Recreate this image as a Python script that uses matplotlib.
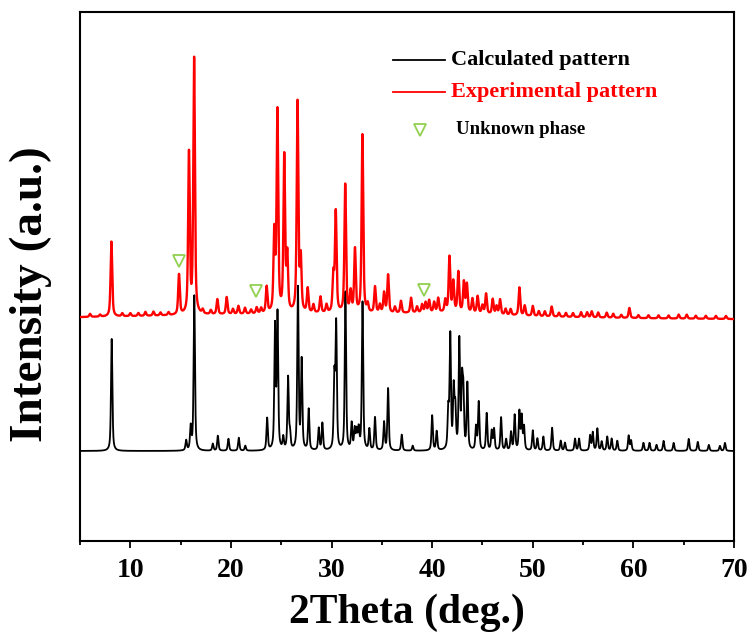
import numpy as np
import matplotlib
matplotlib.use("Agg")
import matplotlib.pyplot as plt
from matplotlib.ticker import FixedLocator

# ---------------- data ----------------
# Calculated pattern: peak positions (2theta, deg) and relative intensities
calc_pos = [8.15, 15.55, 16.0, 16.36, 18.2, 18.7, 19.75, 20.78, 21.43, 23.6,
            24.38, 24.63, 25.2, 25.68, 25.87, 26.66, 27.03, 27.73, 28.73, 29.09,
            30.28, 30.46, 31.38, 32.0, 32.3, 32.5, 32.7, 33.08, 33.76, 34.32,
            35.22, 35.62, 36.98, 38.07, 40.0, 40.45, 41.6, 41.8, 42.14, 42.3,
            42.7, 42.97, 43.1, 43.5, 44.36, 44.63, 45.42, 45.92, 46.15, 46.85,
            47.35, 47.84, 48.2, 48.67, 48.9, 49.13, 50.0, 50.46, 51.05, 51.92,
            52.78, 53.2, 54.2, 54.6, 55.7, 55.96, 56.42, 56.85, 57.4, 57.84,
            58.4, 59.53, 59.77, 61.0, 61.6, 62.3, 63.0, 64.0, 65.5, 66.4,
            67.5, 68.6, 69.1]
calc_int = [112, 10, 23, 155, 7, 15, 12, 13, 5, 32,
            122, 134, 12, 72, 15, 162, 89, 41, 22, 27,
            70, 124, 158, 26, 20, 18, 20, 148, 21, 33,
            28, 62, 16, 5, 35, 19, 38, 113, 59, 39,
            108, 63, 53, 66, 23, 48, 37, 19, 21, 33,
            11, 18, 35, 38, 33, 23, 20, 12, 14, 23,
            10, 8, 12, 12, 15, 18, 22, 9, 14, 12,
            10, 15, 10, 8, 8, 6, 10, 8, 12, 9,
            6, 5, 8]

# Experimental pattern: peak positions and intensities
exp_pos = [6.0, 7.0, 8.12, 9.2, 10.0, 10.8, 11.5, 12.3, 13.0, 13.8,
           14.84, 15.83, 16.34, 17.2, 18.0, 18.65, 19.58, 20.2, 20.74, 21.4,
           22.0, 22.56, 23.0, 23.55, 24.31, 24.62, 25.3, 25.6, 26.62, 26.94,
           27.63, 28.2, 28.9, 29.5, 30.18, 30.42, 31.36, 31.9, 32.33, 33.07,
           33.6, 34.32, 34.8, 35.22, 35.62, 36.3, 36.9, 37.9, 38.5, 39.0,
           39.35, 39.7, 40.2, 40.6, 41.3, 41.72, 42.1, 42.6, 43.15, 43.45,
           44.0, 44.52, 45.0, 45.36, 46.02, 46.4, 46.75, 47.3, 47.8, 48.67,
           49.2, 50.0, 50.6, 51.2, 51.88, 52.6, 53.3, 54.0, 54.8, 55.4,
           55.86, 56.5, 57.35, 58.0, 58.8, 59.6, 60.5, 61.5, 62.5, 63.5,
           64.5, 65.3, 66.2, 67.2, 68.2, 69.2]
exp_int = [3, 2, 75, 3, 3, 3, 4, 4, 3, 3,
           40, 160, 255, 4, 4, 15, 17, 5, 8, 6,
           4, 6, 5, 26, 78, 200, 155, 55, 210, 52,
           24, 8, 16, 8, 36, 100, 128, 20, 63, 178,
           8, 26, 8, 20, 38, 6, 12, 15, 6, 8,
           10, 12, 10, 14, 12, 55, 30, 40, 30, 28,
           14, 17, 8, 20, 15, 8, 15, 6, 6, 28,
           10, 10, 5, 5, 10, 4, 4, 4, 5, 5,
           6, 5, 5, 4, 3, 10, 3, 3, 3, 3,
           4, 4, 3, 3, 3, 3]

# Broad amorphous background of the experimental pattern
bg_pos = [28.0, 42.0]
bg_int = [7, 3]
bg_fwhm = [50.0, 10.0]

# Unknown-phase markers (2theta, height above experimental baseline)
unknown_pos = [14.8, 22.5, 39.2]
unknown_h = [54, 23, 23]

x_ticks = [10, 20, 30, 40, 50, 60, 70]

# ---------------- styling / layout constants ----------------
CALC_OFFSET = 90
EXP_OFFSET = 220
CALC_FWHM = 0.16
EXP_FWHM = 0.19
FONT = ["Liberation Serif", "DejaVu Serif"]
GREEN = "#92D050"


def profile(x, pos, inten, fwhm, eta=0.6):
    y = np.zeros_like(x)
    fw = np.broadcast_to(np.asarray(fwhm, dtype=float), (len(pos),))
    for p, h, w in zip(pos, inten, fw):
        hw = w / 2.0
        lor = 1.0 / (1.0 + ((x - p) / hw) ** 2)
        gau = np.exp(-np.log(2) * ((x - p) / hw) ** 2)
        y += h * (eta * lor + (1 - eta) * gau)
    return y


x = np.arange(5.0, 70.0001, 0.01)
y_calc = CALC_OFFSET + profile(x, calc_pos, calc_int, CALC_FWHM)
y_bg = profile(x, bg_pos, bg_int, bg_fwhm, eta=1.0)
y_exp = EXP_OFFSET + y_bg + profile(x, exp_pos, exp_int, EXP_FWHM)

fig = plt.figure(figsize=(7.53, 6.42), dpi=100)
ax = fig.add_axes([80 / 753, 101 / 642, 654 / 753, 529 / 642])

ax.plot(x, y_calc, color="black", lw=1.3, zorder=2)
ax.plot(x, y_exp, color="#FF0000", lw=1.7, zorder=3)

# unknown phase markers
ux = np.array(unknown_pos)
uy = EXP_OFFSET + np.interp(ux, x, y_bg) + np.array(unknown_h)
ax.plot(ux, uy, linestyle="none", marker="v", markersize=8,
        markerfacecolor="none", markeredgecolor=GREEN, markeredgewidth=1.3,
        zorder=4)

ax.set_xlim(5, 70)
ax.set_ylim(0, 529)
ax.set_yticks([])
ax.xaxis.set_major_locator(FixedLocator(x_ticks))
ax.xaxis.set_minor_locator(FixedLocator([5, 15, 25, 35, 45, 55, 65]))
ax.tick_params(axis="x", which="major", direction="out", length=5, width=1.3,
               pad=7)
ax.tick_params(axis="x", which="minor", direction="out", length=3, width=1.3)
for lbl in ax.get_xticklabels():
    lbl.set_fontfamily(FONT)
    lbl.set_fontweight("bold")
    lbl.set_fontsize(20)
for s in ax.spines.values():
    s.set_linewidth(1.5)

ax.set_xlabel("2Theta (deg.)", family=FONT, fontweight="bold", fontsize=30)
ax.xaxis.set_label_coords(0.5, -0.1)
ax.set_ylabel("Intensity (a.u.)", family=FONT, fontweight="bold", fontsize=34)
ax.yaxis.set_label_coords(-0.043, 0.467)

# manual legend
tr = ax.transAxes
ax.plot([0.4786, 0.558], [0.909, 0.909], color="black", lw=1.3,
        transform=tr, clip_on=False)
ax.text(0.567, 0.909, "Calculated pattern", transform=tr, va="center",
        ha="left", family=FONT, fontweight="bold", fontsize=16, color="black")
ax.plot([0.4786, 0.558], [0.849, 0.849], color="#FF0000", lw=1.3,
        transform=tr, clip_on=False)
ax.text(0.567, 0.849, "Experimental pattern", transform=tr, va="center",
        ha="left", family=FONT, fontweight="bold", fontsize=16,
        color="#FF0000")
ax.plot([0.52], [0.777], linestyle="none", marker="v", markersize=8,
        markerfacecolor="none", markeredgecolor=GREEN, markeredgewidth=1.3,
        transform=tr, clip_on=False)
ax.text(0.575, 0.777, "Unknown phase", transform=tr, va="center", ha="left",
        family=FONT, fontweight="bold", fontsize=13.5, color="black")

fig.savefig("out.png", dpi=100)
